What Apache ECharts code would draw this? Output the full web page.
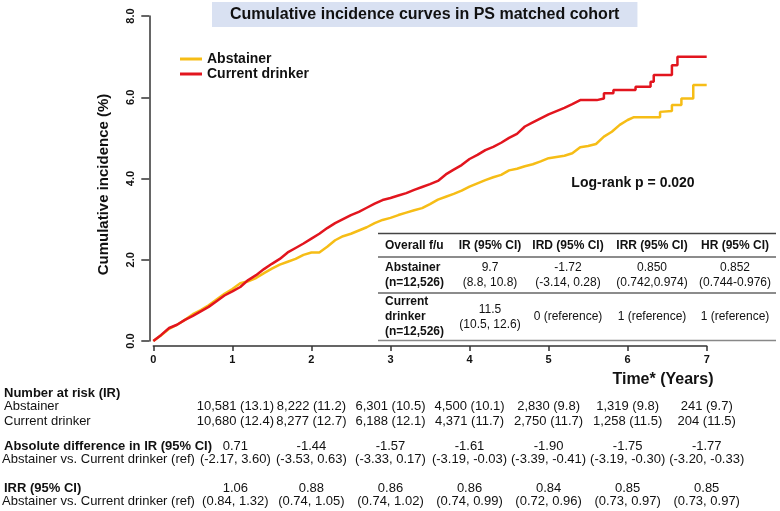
<!DOCTYPE html>
<html>
<head>
<meta charset="utf-8">
<script src="https://cdn.jsdelivr.net/npm/echarts@6/dist/echarts.min.js"></script>
<style>
html,body{margin:0;padding:0;background:#fff;}
#chart{width:780px;height:511px;}
</style>
</head>
<body>
<div id="chart"></div>
<script>
// ---- Data ----
const seriesNames = ['Abstainer', 'Current drinker'];
const abstTime = [0,0.1,0.2,0.3,0.4,0.5,0.6,0.7,0.8,0.9,1.0,1.1,1.2,1.3,1.4,1.5,1.6,1.7,1.8,1.9,2.0,2.1,2.2,2.3,2.4,2.5,2.6,2.7,2.8,2.9,3.0,3.1,3.2,3.3,3.4,3.5,3.6,3.7,3.8,3.9,4.0,4.1,4.2,4.3,4.4,4.5,4.6,4.7,4.8,4.9,5.0,5.1,5.2,5.3,5.4,5.5,5.6,5.7,5.8,5.9,6.0,6.08,6.41,6.41,6.56,6.56,6.68,6.68,6.83,6.83,7.0];
const abstValue = [0,0.14,0.30,0.40,0.52,0.66,0.76,0.88,1.02,1.16,1.28,1.42,1.47,1.55,1.67,1.78,1.88,1.95,2.02,2.12,2.18,2.18,2.32,2.48,2.58,2.64,2.72,2.80,2.90,2.98,3.03,3.10,3.16,3.22,3.27,3.37,3.48,3.55,3.62,3.70,3.80,3.88,3.96,4.03,4.09,4.20,4.24,4.30,4.35,4.42,4.50,4.53,4.56,4.62,4.77,4.80,4.85,5.03,5.15,5.32,5.44,5.51,5.51,5.64,5.66,5.81,5.81,5.97,5.97,6.30,6.30];
const currTime = [0,0.1,0.2,0.3,0.4,0.5,0.6,0.7,0.8,0.9,1.0,1.1,1.2,1.3,1.4,1.5,1.6,1.7,1.8,1.9,2.0,2.1,2.2,2.3,2.4,2.5,2.6,2.7,2.8,2.9,3.0,3.1,3.2,3.3,3.4,3.5,3.6,3.7,3.8,3.9,4.0,4.1,4.2,4.3,4.4,4.5,4.6,4.7,4.8,4.9,5.0,5.1,5.2,5.3,5.4,5.61,5.61,5.70,5.70,5.82,5.82,6.10,6.10,6.29,6.29,6.33,6.33,6.56,6.56,6.63,6.63,7.0];
const currValue = [0,0.15,0.32,0.40,0.52,0.62,0.73,0.84,0.98,1.12,1.22,1.33,1.50,1.62,1.77,1.90,2.02,2.18,2.29,2.40,2.52,2.64,2.78,2.90,3.00,3.10,3.18,3.28,3.38,3.47,3.52,3.58,3.64,3.72,3.79,3.86,3.94,4.10,4.22,4.33,4.48,4.58,4.70,4.78,4.88,5.00,5.10,5.28,5.38,5.48,5.58,5.66,5.74,5.83,5.93,5.93,5.97,5.97,6.10,6.10,6.18,6.18,6.26,6.26,6.38,6.38,6.55,6.55,6.79,6.79,7.00,7.00];

const xTicks = [0,1,2,3,4,5,6,7];
const yTicks = [0,2,4,6,8];

// inner summary table
const tableHeader = ['Overall f/u', 'IR (95% CI)', 'IRD (95% CI)', 'IRR (95% CI)', 'HR (95% CI)'];
const rowAbstLabel = ['Abstainer', '(n=12,526)'];
const rowAbstVals = [['9.7','(8.8, 10.8)'], ['-1.72','(-3.14, 0.28)'], ['0.850','(0.742,0.974)'], ['0.852','(0.744-0.976)']];
const rowCurrLabel = ['Current', 'drinker', '(n=12,526)'];
const rowCurrVals = [['11.5','(10.5, 12.6)'], ['0 (reference)'], ['1 (reference)'], ['1 (reference)']];

// bottom risk table
const riskYears = [1,2,3,4,5,6,7];
const riskAbst = ['10,581 (13.1)','8,222 (11.2)','6,301 (10.5)','4,500 (10.1)','2,830 (9.8)','1,319 (9.8)','241 (9.7)'];
const riskCurr = ['10,680 (12.4)','8,277 (12.7)','6,188 (12.1)','4,371 (11.7)','2,750 (11.7)','1,258 (11.5)','204 (11.5)'];
const absDiff = ['0.71','-1.44','-1.57','-1.61','-1.90','-1.75','-1.77'];
const absDiffCI = ['(-2.17, 3.60)','(-3.53, 0.63)','(-3.33, 0.17)','(-3.19, -0.03)','(-3.39, -0.41)','(-3.19, -0.30)','(-3.20, -0.33)'];
const irrVals = ['1.06','0.88','0.86','0.86','0.84','0.85','0.85'];
const irrCI = ['(0.84, 1.32)','(0.74, 1.05)','(0.74, 1.02)','(0.74, 0.99)','(0.72, 0.96)','(0.73, 0.97)','(0.73, 0.97)'];

// ---- Chart ----
const FONT = '"Liberation Sans", Arial, Helvetica, sans-serif';
const YELLOW = '#F6BD16';
const RED = '#E2151E';
const TXT = '#111';

const chart = echarts.init(document.getElementById('chart'), null, {renderer: 'canvas'});

const zip = (a, b) => a.map((t, i) => [t, b[i]]);

chart.setOption({
  animation: false,
  backgroundColor: '#fff',
  textStyle: {fontFamily: FONT},
  title: {
    text: 'Cumulative incidence curves in PS matched cohort',
    left: 212, top: 2,
    backgroundColor: '#d9e1f2',
    padding: [5, 18, 4, 18],
    textStyle: {fontFamily: FONT, fontSize: 16, fontWeight: 'bold', color: TXT}
  },
  legend: {
    data: seriesNames,
    orient: 'vertical',
    left: 175, top: 47,
    itemWidth: 22, itemHeight: 3,
    itemGap: 1,
    icon: 'rect',
    textStyle: {fontFamily: FONT, fontSize: 14, fontWeight: 'bold', color: TXT, lineHeight: 14}
  },
  grid: {left: 153.3, right: 73.3, top: 16, bottom: 170, containLabel: false},
  xAxis: {
    type: 'value', min: 0, max: 7, interval: 1,
    position: 'bottom',
    offset: 5,
    splitLine: {show: false},
    axisLine: {show: true, onZero: false, lineStyle: {color: '#333', width: 1.5}},
    axisTick: {show: true, length: 5, lineStyle: {color: '#333', width: 1.5}},
    axisLabel: {margin: 8, fontFamily: FONT, fontSize: 11, fontWeight: 'bold', color: TXT}
  },
  yAxis: {
    type: 'value', min: 0, max: 8, interval: 2,
    position: 'left',
    offset: 4,
    name: 'Cumulative incidence (%)',
    nameLocation: 'middle',
    nameGap: 38,
    nameTextStyle: {fontFamily: FONT, fontSize: 15, fontWeight: 'bold', color: TXT, padding: [0, 12, 0, 0]},
    splitLine: {show: false},
    axisLine: {show: true, onZero: false, lineStyle: {color: '#333', width: 1.5}},
    axisTick: {show: true, length: 8, lineStyle: {color: '#333', width: 1.5}},
    axisLabel: {rotate: 90, margin: 13, fontFamily: FONT, fontSize: 11, fontWeight: 'bold', color: TXT,
      formatter: v => v.toFixed(1)}
  },
  series: [
    {name: seriesNames[0], type: 'line', showSymbol: false, data: zip(abstTime, abstValue),
     color: YELLOW, lineStyle: {color: YELLOW, width: 2.5}, z: 2},
    {name: seriesNames[1], type: 'line', showSymbol: false, data: zip(currTime, currValue),
     color: RED, lineStyle: {color: RED, width: 2.5}, z: 3}
  ]
});

// ---- Text / table overlays ----
const g = [];
function txt(text, x, y, opt) {
  opt = opt || {};
  g.push({type: 'text', silent: true, z: 10, style: {
    text: text, x: x, y: y,
    font: (opt.bold ? 'bold ' : '') + (opt.size || 12) + 'px ' + FONT,
    fill: opt.color || TXT,
    textAlign: opt.align || 'left',
    textVerticalAlign: 'middle'
  }});
}
function hline(x1, x2, y, color, w) {
  g.push({type: 'line', silent: true, z: 9, shape: {x1: x1, y1: y, x2: x2, y2: y},
    style: {stroke: color || '#444', lineWidth: w || 1.5}});
}

// Log-rank
txt('Log-rank p = 0.020', 633, 183, {bold: true, size: 14, align: 'center'});
// x-axis title
txt('Time* (Years)', 663, 380, {bold: true, size: 16, align: 'center'});

// inner table
const tabL = 378, tabR = 776;
const colX = [385, 490, 568, 652, 735];
hline(tabL, tabR, 233.5, '#444', 1.5);
hline(tabL, tabR, 257, '#666', 1.5);
hline(tabL, tabR, 293, '#666', 1.5);
hline(tabL, tabR, 340.5, '#888', 1.5);
tableHeader.forEach((h, i) => txt(h, colX[i], 246, {bold: true, size: 12, align: i === 0 ? 'left' : 'center'}));
txt(rowAbstLabel[0], colX[0], 268, {bold: true});
txt(rowAbstLabel[1], colX[0], 283, {bold: true});
rowAbstVals.forEach((v, i) => { txt(v[0], colX[i+1], 268, {align: 'center'}); txt(v[1], colX[i+1], 283, {align: 'center'}); });
txt(rowCurrLabel[0], colX[0], 302, {bold: true});
txt(rowCurrLabel[1], colX[0], 317, {bold: true});
txt(rowCurrLabel[2], colX[0], 332, {bold: true});
rowCurrVals.forEach((v, i) => {
  if (v.length === 2) { txt(v[0], colX[i+1], 309.5, {align: 'center'}); txt(v[1], colX[i+1], 324.5, {align: 'center'}); }
  else txt(v[0], colX[i+1], 317, {align: 'center'});
});

// bottom table
const S = 13;
txt('Number at risk (IR)', 4, 393.5, {bold: true, size: S});
txt('Abstainer', 4, 406, {size: S});
txt('Current drinker', 4, 421, {size: S});
txt('Absolute difference in IR (95% CI)', 4, 446, {bold: true, size: S});
txt('Abstainer vs. Current drinker (ref)', 2, 459.5, {size: S});
txt('IRR (95% CI)', 4, 488, {bold: true, size: S});
txt('Abstainer vs. Current drinker (ref)', 2, 501, {size: S});
riskYears.forEach((yr, i) => {
  const px = chart.convertToPixel({xAxisIndex: 0}, yr) + (i === 0 ? 3 : 0);
  txt(riskAbst[i], px, 406, {size: S, align: 'center'});
  txt(riskCurr[i], px, 421, {size: S, align: 'center'});
  txt(absDiff[i], px, 446, {size: S, align: 'center'});
  txt(absDiffCI[i], px, 459.5, {size: S, align: 'center'});
  txt(irrVals[i], px, 488, {size: S, align: 'center'});
  txt(irrCI[i], px, 501, {size: S, align: 'center'});
});

chart.setOption({graphic: g});
</script>
</body>
</html>
